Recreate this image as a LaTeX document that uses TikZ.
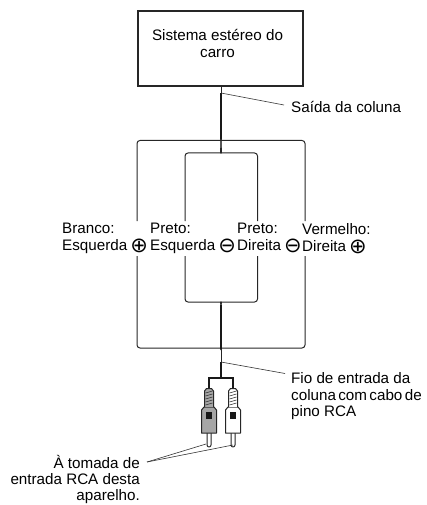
\documentclass[tikz,border=0pt]{standalone}
\usepackage{fontspec}
\setmainfont{Liberation Sans}
\newfontfamily\symfont{DejaVu Sans}
\usepackage{tikz}
\tikzset{
	main node/.style={draw=black!85,line width=1.2pt,minimum width=165pt,minimum height=75pt,inner sep=0pt},
	label node/.style={inner sep=0pt,font=\lbl},
	wire/.style={line width=1pt,black!85,rounded corners=3pt},
	thick wire/.style={line width=1.8pt,black!90},
	lead/.style={line width=0.6pt,black!80},
	plug/.style={line width=1pt,black!85,line join=round}
}
\newcommand{\lbl}{\fontsize{15.2}{16.8}\selectfont}
\newcommand{\cplus}{\raisebox{-2pt}{\symfont\fontsize{21}{21}\selectfont ⊕}}
\newcommand{\cminus}{\raisebox{-2pt}{\symfont\fontsize{21}{21}\selectfont ⊖}}
\begin{document}
\begin{tikzpicture}[x=1pt,y=-1pt]
\useasboundingbox (0,0) rectangle (427,505);
% stereo box
\node [main node] (stereo) at (220.5,48.5) {};
\node [label node,anchor=north,align=center] (stereotext) at (217.5,29) {Sistema estéreo do\\carro};
\node [label node,anchor=base west] (out) at (291,112.5) {Saída da coluna};
\coordinate (j1) at (221,93);
\coordinate (s1) at (221,139);
\coordinate (j2) at (221,362);
\coordinate (s2) at (221,305);
\coordinate (split) at (221,378);
% wires on top
\draw [line width=0.9pt,black!85] (stereo.south -| j1) -- (j1);
\draw [thick wire] (j1) -- (s1);
\draw [lead] (j1) -- (284,105);
\draw [wire] (s1) .. controls (221,140.5) and (220,140.5) .. (218,140.5) -- (137,140.5) -- (137,221);
\draw [wire] (s1) .. controls (221,140.5) and (222,140.5) .. (224,140.5) -- (305,140.5) -- (305,221);
\draw [wire] (s1) .. controls (221,150) and (220,153) .. (218,153) -- (185,153) -- (185,221);
\draw [wire] (s1) .. controls (221,150) and (222,153) .. (224,153) -- (257.5,153) -- (257.5,221);
% labels
\node [label node,anchor=north west,align=left] (white) at (62,223) {Branco:\\Esquerda\hspace{3pt}\cplus};
\node [label node,anchor=north west,align=left] (blackl) at (150,223) {Preto:\\Esquerda\hspace{3pt}\cminus};
\node [label node,anchor=north west,align=left] (blackr) at (237,223) {Preto:\\Direita\hspace{3pt}\cminus};
\node [label node,anchor=north west,align=left] (red) at (302,223) {Vermelho:\\Direita\hspace{3pt}\cplus};
% wires below
\draw [wire] (137,256) -- (137,348) -- (218,348) .. controls (220,348) and (221,348.5) .. (221,350);
\draw [wire] (305,256) -- (305,348) -- (224,348) .. controls (222,348) and (221,348.5) .. (221,350);
\draw [wire] (185,256) -- (185,302) -- (218,302) .. controls (220,302) and (221,303) .. (s2);
\draw [wire] (257.5,256) -- (257.5,302) -- (224,302) .. controls (222,302) and (221,303) .. (s2);
\draw [thick wire] (s2) -- (221,349);
\draw [line width=1pt,black!85] (221,349) -- (j2);
\draw [thick wire] (j2) -- (split);
\draw [lead] (j2) -- (285,373.5);
\node [label node,anchor=north west,align=left] (in) at (291,372) {Fio de entrada da\\{\spaceskip=2.4pt coluna com cabo de}\\pino RCA};
% plugs
\draw [line width=2.2pt,black!90,line join=miter] (209,389) -- (209,378) -- (233,378) -- (233,389);
\foreach \px/\pfill in {209/black!35,233/white}{
  \begin{scope}[shift={(\px,0)}]
  \draw [plug,fill=white] (-2,433) -- (-2,445) arc[start angle=180,end angle=0,radius=2] -- (2,433);
  \draw [plug,fill=\pfill] (-7.5,433) -- (-7.5,410) -- (-5,407) -- (5,407) -- (7.5,410) -- (7.5,433) -- cycle;
  \draw [plug,fill=\pfill] (-4.5,407) -- (-4.5,391) -- (-2.5,388.5) -- (2.5,388.5) -- (4.5,391) -- (4.5,407);
  \foreach \ry in {392,395,398,401,404}
    \draw [line width=0.6pt,black!80] (-3.5,\ry+1) -- (3.5,\ry-1);
  \fill [black!90] (-3,412) rectangle (3,418.5);
  \end{scope}
}
% lower leaders
\coordinate (tip) at (147,462);
\draw [lead] (tip) -- (206,444);
\draw [lead] (tip) -- (233,445);
\node [label node,anchor=north east,align=right,font=\fontsize{15.2}{16.2}\selectfont] (socket) at (140,455) {À tomada de\\entrada RCA desta\\aparelho.};
\end{tikzpicture}
\end{document}
